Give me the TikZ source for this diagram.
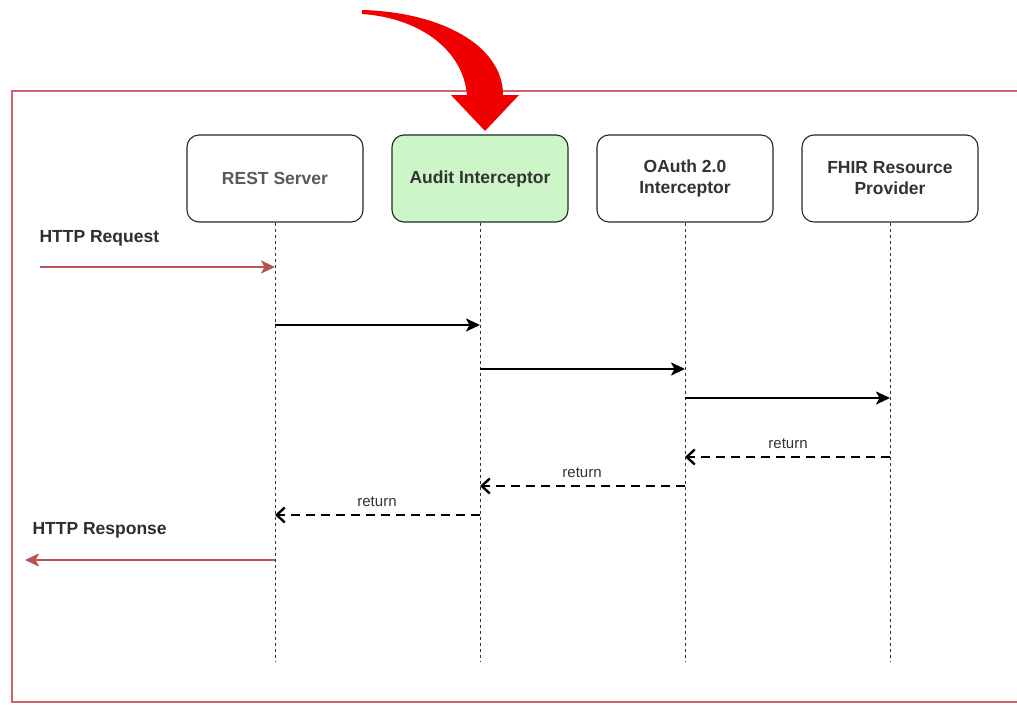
\documentclass[tikz,border=0pt]{standalone}
\usepackage{fontspec}
\setmainfont{Liberation Sans}
\usetikzlibrary{arrows.meta}
\definecolor{frame}{HTML}{D2606C}
\definecolor{resp}{HTML}{B85450}
\definecolor{aud}{HTML}{CCF5C8}
\definecolor{txt}{HTML}{333333}
\definecolor{bigred}{HTML}{F00000}
\tikzset{
  actor/.style={draw=black!85, line width=1.1pt, rounded corners=12pt, minimum width=176pt, minimum height=87pt, align=center, font=\fontsize{17.5}{21}\selectfont\bfseries, text=txt, fill=white},
  life/.style={draw=black!80, line width=1pt, dash pattern=on 3pt off 3pt},
  msg/.style={draw=black, line width=2.4pt, -{Stealth[length=14pt,width=13pt,inset=3.5pt]}},
  ret/.style={draw=black, line width=2.4pt, dash pattern=on 9pt off 6pt, -{Straight Barb[length=8pt,width=15pt,line width=2.4pt]}},
  http/.style={draw=resp, line width=2.4pt, -{Stealth[length=14pt,width=13pt,inset=3.5pt]}},
  lbl/.style={font=\fontsize{17.5}{21}\selectfont\bfseries, text=txt!90!black, anchor=west},
  rlbl/.style={font=\fontsize{15}{18}\selectfont, text=txt}
}
\begin{document}
\begin{tikzpicture}[x=1pt,y=-1pt]
\useasboundingbox (0,0) rectangle (1017,704);
\fill[white] (0,0) rectangle (1017,704);
% frame
\draw[frame, line width=1.6pt] (1020,91) -- (12,91) -- (12,702) -- (1020,702);
% actors
\node[actor] (rest) at (275,178.5) {\textcolor{black!65}{REST Server}};
\node[actor, fill=aud] (audit) at (480,178.5) {Audit Interceptor};
\node[actor] (oauth) at (685,178.5) {OAuth 2.0\\Interceptor};
\node[actor] (fhir) at (890,178.5) {FHIR Resource\\Provider};
% lifelines
\coordinate (restE) at (275,662);
\coordinate (auditE) at (480,662);
\coordinate (oauthE) at (685,662);
\coordinate (fhirE) at (890,662);
\draw[life] (rest.south) -- (restE);
\draw[life] (audit.south) -- (auditE);
\draw[life] (oauth.south) -- (oauthE);
\draw[life] (fhir.south) -- (fhirE);
% big red arrow
\fill[bigred] (362,10) .. controls (440,12) and (503,45) .. (503,95)
  -- (519,95) -- (485,131) -- (451,95) -- (467,95)
  .. controls (463,50) and (420,18) .. (362,14) -- cycle;
% messages
\coordinate (req0) at (40,267);
\coordinate (req1) at (275,267);
\coordinate (m1a) at (275,325); \coordinate (m1b) at (480,325);
\coordinate (m2a) at (480,369); \coordinate (m2b) at (685,369);
\coordinate (m3a) at (685,398); \coordinate (m3b) at (890,398);
\coordinate (r1a) at (890,457); \coordinate (r1b) at (685,457);
\coordinate (r2a) at (685,486); \coordinate (r2b) at (480,486);
\coordinate (r3a) at (480,515); \coordinate (r3b) at (275,515);
\coordinate (res0) at (275,560); \coordinate (res1) at (25,560);
\node[lbl] (reqL) at (36,238) {HTTP Request};
\draw[http] (req0) -- (req1);
\draw[msg] (m1a) -- (m1b);
\draw[msg] (m2a) -- (m2b);
\draw[msg] (m3a) -- (m3b);
\draw[ret] (r1a) -- (r1b);
\draw[ret] (r2a) -- (r2b);
\draw[ret] (r3a) -- (r3b);
\node[rlbl] (r1L) at (788,444) {return};
\node[rlbl] (r2L) at (582,473) {return};
\node[rlbl] (r3L) at (377,502) {return};
\node[lbl] (resL) at (29,530) {HTTP Response};
\draw[http] (res0) -- (res1);
\end{tikzpicture}
\end{document}
